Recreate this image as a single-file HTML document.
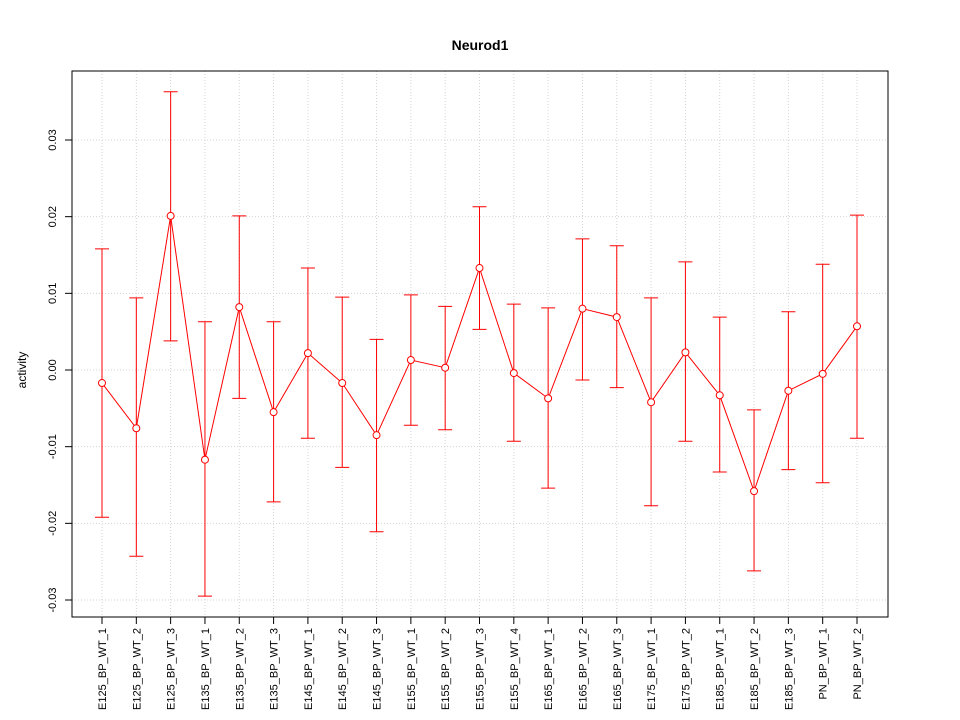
<!DOCTYPE html>
<html><head><meta charset="utf-8"><style>
body{margin:0;background:#fff}
svg{display:block;font-family:"Liberation Sans",sans-serif}
</style></head><body>
<svg id="chart" width="960" height="720">
<text x="480" y="50" text-anchor="middle" font-size="14" font-weight="bold">Neurod1</text>
<text transform="translate(26,370) rotate(-90)" text-anchor="middle" font-size="12">activity</text>
<g id="grid"></g><g id="axes"></g><g id="marks"></g>
<rect x="72" y="71" width="816" height="546" fill="none" stroke="#000"/>
</svg>
<script>
const categories=["E125_BP_WT_1","E125_BP_WT_2","E125_BP_WT_3","E135_BP_WT_1","E135_BP_WT_2","E135_BP_WT_3","E145_BP_WT_1","E145_BP_WT_2","E145_BP_WT_3","E155_BP_WT_1","E155_BP_WT_2","E155_BP_WT_3","E155_BP_WT_4","E165_BP_WT_1","E165_BP_WT_2","E165_BP_WT_3","E175_BP_WT_1","E175_BP_WT_2","E185_BP_WT_1","E185_BP_WT_2","E185_BP_WT_3","PN_BP_WT_1","PN_BP_WT_2"];
const values=[-0.0017,-0.0076,0.0201,-0.0117,0.0082,-0.0055,0.0022,-0.0017,-0.0085,0.0013,0.0003,0.0133,-0.0004,-0.0037,0.0080,0.0069,-0.0042,0.0023,-0.0033,-0.0158,-0.0027,-0.0005,0.0057];
const upper=[0.0158,0.0094,0.0363,0.0063,0.0201,0.0063,0.0133,0.0095,0.0040,0.0098,0.0083,0.0213,0.0086,0.0081,0.0171,0.0162,0.0094,0.0141,0.0069,-0.0052,0.0076,0.0138,0.0202];
const lower=[-0.0192,-0.0243,0.0038,-0.0295,-0.0037,-0.0172,-0.0089,-0.0127,-0.0211,-0.0072,-0.0078,0.0053,-0.0093,-0.0154,-0.0013,-0.0023,-0.0177,-0.0093,-0.0133,-0.0262,-0.0130,-0.0147,-0.0089];
const yTicks=[-0.03,-0.02,-0.01,0,0.01,0.02,0.03];
const yTickLabels=["-0.03","-0.02","-0.01","0.00","0.01","0.02","0.03"];
const NS="http://www.w3.org/2000/svg";
const X=i=>102+i*(857-102)/(categories.length-1);
const Y=v=>370-v*7666.7;
function mk(p,tag,a){const e=document.createElementNS(NS,tag);for(const k in a)e.setAttribute(k,a[k]);p.appendChild(e);return e;}
const grid=document.getElementById('grid'),axes=document.getElementById('axes'),marks=document.getElementById('marks');
categories.forEach((c,i)=>{
 const g=mk(grid,'line',{x1:X(i),x2:X(i),y1:71,y2:617,stroke:'#d3d3d3','stroke-dasharray':'1,2'});
 
 
 const t=mk(axes,'line',{x1:X(i),x2:X(i),y1:617,y2:624,stroke:'#000'});
 
 
 const l=mk(axes,'text',{transform:`translate(${X(i)+4},628) rotate(-90)`,'text-anchor':'end','font-size':'11'});
 l.textContent=c;
 
 
});
yTicks.forEach((v,i)=>{
 const g=mk(grid,'line',{x1:72,x2:888,y1:Y(v),y2:Y(v),stroke:'#d3d3d3','stroke-dasharray':'1,2'});
 
 
 const t=mk(axes,'line',{x1:65,x2:72,y1:Y(v),y2:Y(v),stroke:'#000'});
 
 
 const l=mk(axes,'text',{transform:`translate(56,${Y(v)}) rotate(-90)`,'text-anchor':'middle','font-size':'11'});
 l.textContent=yTickLabels[i];
 
 
});
categories.forEach((c,i)=>{
 const x=X(i);
 const b=mk(marks,'path',{d:`M${x},${Y(upper[i])}V${Y(lower[i])}M${x-7},${Y(upper[i])}H${x+7}M${x-7},${Y(lower[i])}H${x+7}`,stroke:'#f00',fill:'none'});
 
 
});
const line=mk(marks,'polyline',{points:values.map((v,i)=>X(i)+','+Y(v)).join(' '),fill:'none',stroke:'#f00'});


values.forEach((v,i)=>{
 const p=mk(marks,'circle',{cx:X(i),cy:Y(v),r:3.5,fill:'#fff',stroke:'#f00'});
 
 
});
</script>
</body></html>
